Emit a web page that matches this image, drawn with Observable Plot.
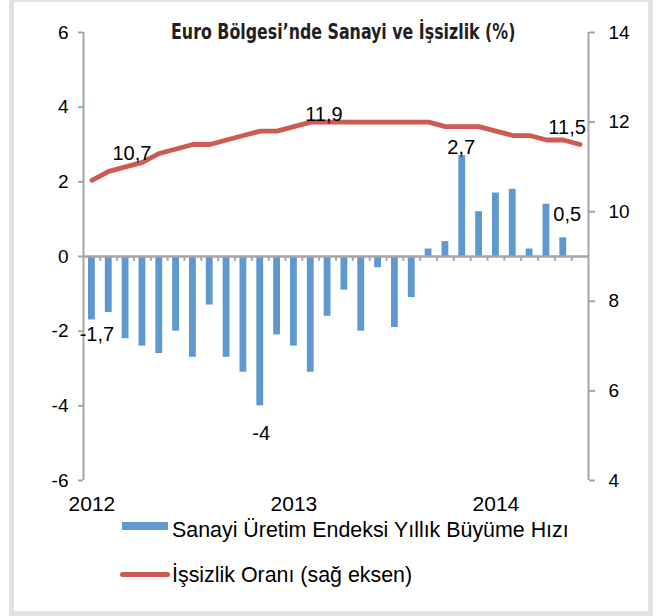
<!DOCTYPE html>
<html>
<head>
<meta charset="utf-8">
<script src="https://cdn.jsdelivr.net/npm/d3@7"></script>
<script src="https://cdn.jsdelivr.net/npm/@observablehq/plot@0.6"></script>
<style>
  html, body { margin: 0; padding: 0; background: #fff; }
  #wrap { position: relative; width: 661px; height: 616px; overflow: hidden; background: #fff;
          font-family: "Liberation Sans", Arial, sans-serif; color: #000; }
  #frame { position: absolute; left: 9px; top: -3px; width: 634px; height: 609px; border: 5px solid #e2e2e2; }
  #chart { position: absolute; left: 0; top: 0; }
  #titlebox { position: absolute; left: 0; width: 686px; top: 19px; text-align: center; }
  #title { display: inline-block; white-space: nowrap; transform: scaleX(0.80); transform-origin: 50% 50%;
           font-family: "Liberation Sans Narrow", "DejaVu Sans Condensed", "Liberation Sans", sans-serif;
           font-weight: bold; font-size: 22px; line-height: 26px; color: #231f20; }
  .sw { position: absolute; }
  .lt { position: absolute; left: 172px; font-size: 21.4px; line-height: 24px; white-space: nowrap; }
</style>
</head>
<body>
<div id="wrap">
  <div id="frame"></div>
  <div id="chart"></div>
  <div id="titlebox"><span id="title"></span></div>
  <div class="sw" id="sw1"></div>
  <div class="lt" id="lt1"></div>
  <div class="sw" id="sw2"></div>
  <div class="lt" id="lt2"></div>
</div>
<script>
// ---- data ----
const titleText = "Euro Bölgesi’nde Sanayi ve İşsizlik (%)";
const seriesNames = ["Sanayi Üretim Endeksi Yıllık Büyüme Hızı", "İşsizlik Oranı (sağ eksen)"];
// monthly categories: Jan 2012 .. Jun 2014
const months = d3.utcMonth.range(new Date(Date.UTC(2012, 0, 1)), new Date(Date.UTC(2014, 6, 1)));
const yearLabels = ["2012", "2013", "2014"];
// industrial production, yoy growth % (left axis), Jan 2012 .. May 2014
const production = [-1.7, -1.5, -2.2, -2.4, -2.6, -2.0, -2.7, -1.3, -2.7, -3.1, -4.0, -2.1,
                    -2.4, -3.1, -1.6, -0.9, -2.0, -0.3, -1.9, -1.1, 0.2, 0.4, 2.7, 1.2,
                    1.7, 1.8, 0.2, 1.4, 0.5];
// unemployment rate % (right axis), Jan 2012 .. Jun 2014
const unemployment = [10.7, 10.9, 11.0, 11.1, 11.3, 11.4, 11.5, 11.5, 11.6, 11.7, 11.8, 11.8,
                      11.9, 12.0, 12.0, 12.0, 12.0, 12.0, 12.0, 12.0, 12.0, 11.9, 11.9, 11.9,
                      11.8, 11.7, 11.7, 11.6, 11.6, 11.5];
const leftTicks = [-6, -4, -2, 0, 2, 4, 6];
const rightTicks = [4, 6, 8, 10, 12, 14];

// ---- styles ----
const BLUE = "#5e98cf";
const RED = "#cc5b53";
const GRAY = "#a6a6a6";

// map right-axis values [4,14] onto left-axis domain [-6,6]
const toLeft = v => (v - 9) * 1.2;
const fromLeft = v => v / 1.2 + 9;
const fmt = v => String(v).replace(".", ",");

const bars = production.map((v, i) => ({i, v, month: months[i]}));
const line = unemployment.map((v, i) => ({i, v, month: months[i]}));
const yearIdx = months.map((m, i) => i).filter(i => months[i].getUTCMonth() === 0);

const lineLabel = (i, dx, dy) => Plot.text([line[i]], {
  x: d => d.i + 0.5, y: d => toLeft(d.v), text: d => fmt(d.v), dx, dy, fontSize: 20, fill: "#000"
});
const barLabel = (i, dx, dy) => Plot.text([bars[i]], {
  x: d => d.i + 0.5, y: "v", text: d => fmt(d.v), dx, dy, fontSize: 20, fill: "#000"
});

const chart = Plot.plot({
  width: 661,
  height: 520,
  marginLeft: 83,
  marginRight: 73,
  marginTop: 32,
  marginBottom: 40,
  style: {fontFamily: '"Liberation Sans", Arial, sans-serif', background: "transparent", color: "#000"},
  x: {type: "linear", domain: [0, months.length], axis: null},
  y: {domain: [-6, 6], axis: null},
  marks: [
    Plot.rect(bars, {x1: "i", x2: d => d.i + 1, y1: 0, y2: "v", fill: BLUE, insetLeft: 5, insetRight: 5}),
    Plot.ruleY([0], {stroke: GRAY, strokeWidth: 2.5}),
    Plot.ruleX(d3.range(1, months.length), {y1: 0, y2: -0.13, stroke: GRAY, strokeWidth: 2}),
    Plot.ruleX([0, months.length], {stroke: GRAY, strokeWidth: 2}),
    Plot.axisY({anchor: "left", label: null, ticks: leftTicks, tickFormat: d => String(d),
                tickSize: 5, tickPadding: 10, fontSize: 19, stroke: GRAY, strokeWidth: 2, fill: "#000"}),
    Plot.axisY({anchor: "right", label: null, ticks: rightTicks.map(toLeft),
                tickFormat: d => String(Math.round(fromLeft(d))),
                tickSize: 6, tickPadding: 14, fontSize: 19, stroke: GRAY, strokeWidth: 2, fill: "#000"}),
    Plot.axisX({anchor: "bottom", label: null, ticks: yearIdx.map(i => i + 0.5),
                tickFormat: (d, k) => yearLabels[k], tickSize: 0, tickPadding: 16, fontSize: 21, fill: "#000"}),
    Plot.line(line, {x: d => d.i + 0.5, y: d => toLeft(d.v), stroke: RED, strokeWidth: 4.8,
                     strokeLinecap: "round", strokeLinejoin: "round"}),
    lineLabel(0, 40, -27),
    lineLabel(12, 30, -12),
    lineLabel(29, -13, -17),
    barLabel(0, 5, 15),
    barLabel(10, 1, 28),
    barLabel(22, -1, -8),
    barLabel(28, 4, -23)
  ]
});
document.getElementById("chart").appendChild(chart);

document.getElementById("title").textContent = titleText;
const sw1 = document.getElementById("sw1");
Object.assign(sw1.style, {left: "122px", top: "522px", width: "46px", height: "8px", background: BLUE});
const sw2 = document.getElementById("sw2");
Object.assign(sw2.style, {left: "120px", top: "572px", width: "50px", height: "5px", background: RED, borderRadius: "3px"});
const lt1 = document.getElementById("lt1");
lt1.textContent = seriesNames[0];
lt1.style.top = "518px";
const lt2 = document.getElementById("lt2");
lt2.textContent = seriesNames[1];
lt2.style.top = "563px";
</script>
</body>
</html>
